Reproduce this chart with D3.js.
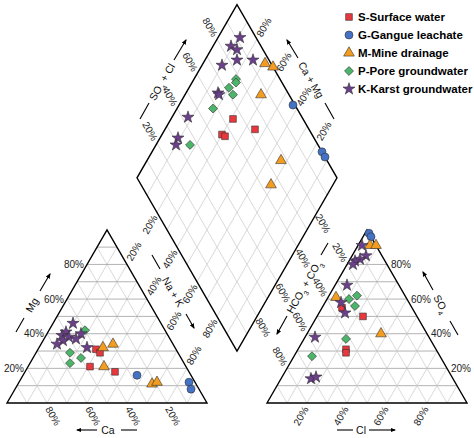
<!DOCTYPE html>
<html>
<head>
<meta charset="utf-8">
<script src="https://cdn.jsdelivr.net/npm/d3@7"></script>
<style>
  body { margin: 0; background: #fff; }
  text { font-family: "Liberation Sans", Arial, sans-serif; }
</style>
</head>
<body>
<div id="piper"></div>
<script>
var svgWidth = 474;
var svgHeight = 438;

// groups in legend order
var groups = ["S-Surface water", "G-Gangue leachate", "M-Mine drainage", "P-Pore groundwater", "K-Karst groundwater"];
var groupColors = ["#e8383d", "#4472c4", "#f39c1f", "#4cb56a", "#6b3f8c"];
var groupShapes = [d3.symbolSquare, d3.symbolCircle, d3.symbolTriangle, d3.symbolSquare, d3.symbolStar];
var groupRotate = [0, 0, 0, 45, 0];
var groupSizes = [45, 50, 50, 40, 45];
var tickValues = [20, 40, 60, 80];

// cation triangle: [Mg %, Na+K %]
var cationS = [[31, 29], [29, 32], [21, 31], [18, 45]];
var cationG = [[16, 57], [12, 85], [8, 88]];
var cationM = [[32, 32], [34, 36], [21, 38], [11, 67], [12, 69]];
var cationP = [[42, 18], [29, 17], [26, 24], [23, 20]];
var cationK = [[46, 10], [41, 9], [39, 8], [38, 12], [40, 17], [36, 10], [37, 16], [34, 8], [32, 24]];

// anion triangle: [SO4 %, Cl %]
var anionS = [[55, 10], [50, 23], [31, 24], [29, 25]];
var anionG = [[98, 2], [96, 4]];
var anionM = [[91, 6], [91, 9], [61, 4], [40, 37]];
var anionP = [[62, 14], [60, 11], [56, 16], [37, 21], [27, 9]];
var anionK = [[91, 2], [85, 7], [83, 5], [82, 3], [80, 3], [68, 6], [58, 8], [52, 13], [38, 5], [14, 15], [15, 17]];

// diamond: [SO4+Cl %, Ca+Mg %]
var diamondS = [[69, 65], [55, 73], [70, 55], [68, 56]];
var diamondG = [[43, 99], [15, 100], [12, 100]];
var diamondM = [[69, 97], [64, 100], [62, 86], [33, 77], [31, 65]];
var diamondP = [[79, 78], [78, 77], [80, 72], [76, 72], [82, 58], [83, 36]];
var diamondK = [[89, 92], [91, 85], [87, 87], [84, 84], [76, 92], [90, 75], [84, 65], [83, 65], [92, 43], [91, 32], [90, 29]];

var cationData = [cationS, cationG, cationM, cationP, cationK];
var anionData = [anionS, anionG, anionM, anionP, anionK];
var diamondData = [diamondS, diamondG, diamondM, diamondP, diamondK];

// geometry
var side = 200;
var triH = side * Math.sqrt(3) / 2;
var baseY = 403;
var leftX0 = 7;
var rightX0 = 267;
var diamondBottom = [(leftX0 + side + rightX0) / 2, baseY - 60 * Math.sqrt(3) / 2];

var pct = d3.scaleLinear().domain([0, 100]).range([0, 1]);

function cationPos(mg, na) {
  var m = pct(mg), n = pct(na);
  return [leftX0 + (n + m / 2) * side, baseY - m * triH];
}
function anionPos(so4, cl) {
  var s = pct(so4), c = pct(cl);
  return [rightX0 + (c + s / 2) * side, baseY - s * triH];
}
function diamondPos(a, c) {
  var aa = pct(a), cc = pct(c);
  return [diamondBottom[0] + (cc - aa) * side / 2, diamondBottom[1] - (aa + cc) * triH];
}

var svg = d3.select("#piper")
  .append("svg")
  .attr("width", svgWidth)
  .attr("height", svgHeight);

var gridGroup = svg.append("g");
var line = d3.line();

function seg(p, q, color) {
  gridGroup.append("path")
    .attr("d", line([p, q]))
    .attr("stroke", color)
    .attr("stroke-width", 0.8)
    .attr("fill", "none");
}

// triangle grids
var steps = d3.range(10, 100, 10);
[cationPos, anionPos].forEach(function(pos) {
  steps.forEach(function(v) {
    seg(pos(0, v), pos(100 - v, v), "#cfcfcf");          // const second
    seg(pos(0, 100 - v), pos(100 - v, 0), "#cfcfcf");    // const third
    seg(pos(v, 0), pos(v, 100 - v), "#a0a0a0");          // horizontal
  });
});
steps.forEach(function(v) {
  seg(diamondPos(v, 0), diamondPos(v, 100), "#cfcfcf");
  seg(diamondPos(0, v), diamondPos(100, v), "#cfcfcf");
});

// outlines
var outline = svg.append("g").attr("fill", "none").attr("stroke", "#000").attr("stroke-width", 1.4);
outline.append("path").attr("d", line([cationPos(0, 0), cationPos(100, 0), cationPos(0, 100)]) + "Z");
outline.append("path").attr("d", line([anionPos(0, 0), anionPos(100, 0), anionPos(0, 100)]) + "Z");
outline.append("path").attr("d", line([diamondPos(0, 0), diamondPos(100, 0), diamondPos(100, 100), diamondPos(0, 100)]) + "Z");

// tick labels
var labels = svg.append("g").attr("font-size", 10).attr("fill", "#222");
function tickLabel(p, dx, dy, rot, txt, anchor) {
  var x = p[0] + dx, y = p[1] + dy;
  labels.append("text")
    .attr("transform", "translate(" + x + "," + y + ") rotate(" + rot + ")")
    .attr("text-anchor", anchor || "middle")
    .attr("dy", "0.35em")
    .text(txt + "%");
}
tickValues.forEach(function(v) {
  tickLabel(cationPos(v, 0), -3, 0, 0, v, "end");                // Mg
  tickLabel(cationPos(0, 100 - v), 6, 13, 60, v);                 // Ca
  tickLabel(cationPos(100 - v, v), 7, -13, -60, v);               // Na + K
  tickLabel(anionPos(v, 100 - v), 4, 0, 0, v, "start");           // SO4
  tickLabel(anionPos(0, v), -6, 13, -60, v);                      // Cl
  tickLabel(anionPos(100 - v, 0), -7, -12, 60, v);                // HCO3
  tickLabel(diamondPos(100, v), -7, -12, 60, v);                  // diamond upper-left
  tickLabel(diamondPos(v, 100), 7, -12, -60, v);                  // diamond upper-right
  tickLabel(diamondPos(100 - v, 0), -7, 12, -60, v);              // diamond lower-left
  tickLabel(diamondPos(0, 100 - v), 6, 11, 60, v);                // diamond lower-right
});

// axis titles with leading line and arrow
svg.append("defs").append("marker")
  .attr("id", "arrow")
  .attr("viewBox", "0 0 10 10")
  .attr("refX", 8).attr("refY", 5)
  .attr("markerWidth", 5).attr("markerHeight", 5)
  .attr("orient", "auto")
  .append("path").attr("d", "M0,1 L10,5 L0,9 Z").attr("fill", "#000");

var titles = svg.append("g").attr("font-size", 10.5).attr("fill", "#111");
function axisTitle(tail, textPos, head, rot, txt) {
  titles.append("path").attr("d", line(tail)).attr("stroke", "#000").attr("stroke-width", 1.1);
  titles.append("path").attr("d", line(head)).attr("stroke", "#000").attr("stroke-width", 1.1)
    .attr("marker-end", "url(#arrow)");
  var t = titles.append("text")
    .attr("transform", "translate(" + textPos[0] + "," + textPos[1] + ") rotate(" + rot + ")")
    .attr("text-anchor", "middle")
    .attr("dy", "0.35em");
  txt.forEach(function(part) {
    t.append("tspan")
      .attr("baseline-shift", part[1] ? "sub" : null)
      .attr("font-size", part[1] ? 7 : null)
      .text(part[0]);
  });
}
axisTitle([[16, 332], [24, 318]], [32, 305], [[40, 291], [50, 274]], -60, [["Mg"]]);
axisTitle([[121, 430], [137, 430]], [108, 430], [[97, 430], [77, 430]], 0, [["Ca"]]);
axisTitle([[152, 255], [160, 269]], [173, 292], [[186, 314], [194, 328]], 60, [["Na + K"]]);
axisTitle([[337, 430], [353, 430]], [361, 430], [[369, 430], [395, 430]], 0, [["Cl"]]);
axisTitle([[458, 335], [450, 321]], [441, 304], [[433, 290], [423, 272]], 60, [["SO"], ["4", true]]);
axisTitle([[328, 243], [321, 255]], [304, 287], [[287, 316], [277, 334]], -60, [["HCO"], ["3", true], [" + CO"], ["3", true]]);
axisTitle([[140, 119], [149, 103]], [162, 82], [[174, 60], [186, 40]], -60, [["SO"], ["4", true], [" + Cl"]]);
axisTitle([[334, 119], [325, 103]], [311, 80], [[298, 58], [287, 40]], 60, [["Ca + Mg"]]);

// points
var symbolGen = function(i) {
  return d3.symbol().type(groupShapes[i]).size(groupSizes[i])();
};
var pointsGroup = svg.append("g");
function drawPoints(data, pos) {
  data.forEach(function(series, i) {
    pointsGroup.selectAll(null)
      .data(series)
      .enter()
      .append("path")
      .attr("d", symbolGen(i))
      .attr("transform", function(record) {
        var p = pos(record[0], record[1]);
        return "translate(" + p[0] + "," + p[1] + ") rotate(" + groupRotate[i] + ")";
      })
      .attr("fill", groupColors[i])
      .attr("stroke", "#333")
      .attr("stroke-width", 0.6);
  });
}
drawPoints(diamondData, diamondPos);
drawPoints(cationData, cationPos);
drawPoints(anionData, anionPos);

// legend
var legend = svg.append("g").attr("transform", "translate(349, 17)");
groups.forEach(function(name, i) {
  var row = legend.append("g").attr("transform", "translate(0," + (i * 18) + ")");
  row.append("path")
    .attr("d", symbolGen(i))
    .attr("transform", "rotate(" + groupRotate[i] + ")")
    .attr("fill", groupColors[i])
    .attr("stroke", "#333")
    .attr("stroke-width", 0.6);
  row.append("text")
    .attr("x", 9)
    .attr("dy", "0.35em")
    .attr("font-size", 11.5)
    .attr("font-weight", "bold")
    .text(name);
});
</script>
</body>
</html>
